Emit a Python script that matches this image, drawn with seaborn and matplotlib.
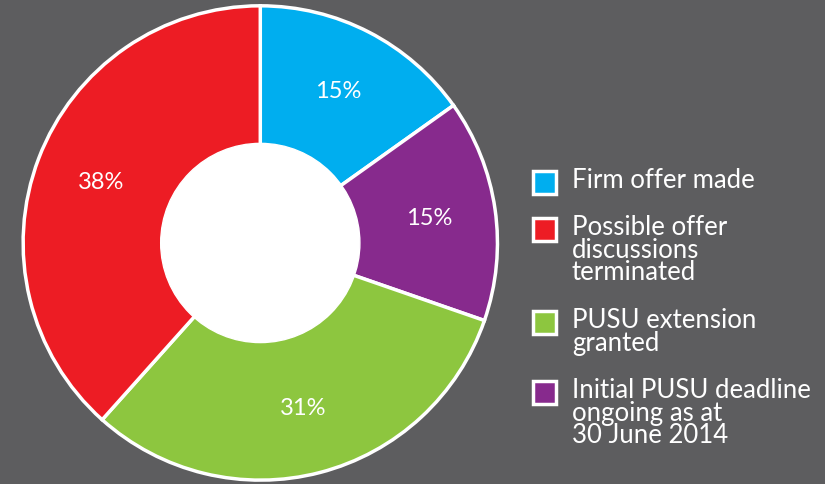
import matplotlib.pyplot as plt
import seaborn as sns
from matplotlib.patches import Rectangle

# share of PUSU outcomes (clockwise from top)
categories = ["Firm offer made",
              "Initial PUSU deadline\nongoing as at\n30 June 2014",
              "PUSU extension\ngranted",
              "Possible offer\ndiscussions\nterminated"]
shares = [15, 15, 31, 38]
colors = ["#00aeef", "#872a8d", "#8dc63f", "#ed1c24"]

# legend order as in the original
legend_order = [0, 3, 2, 1]

bg = "#5d5d5f"
sns.set_style("white")
plt.rcParams["font.family"] = ["Lato", "DejaVu Sans"]

fig = plt.figure(figsize=(8.25, 4.84), dpi=100, facecolor=bg)
ax = fig.add_axes([0.027, 0.008, 0.577, 0.98])
ax.set_facecolor(bg)

wedges, texts, autotexts = ax.pie(
    shares, colors=colors, startangle=90, counterclock=False,
    radius=1, autopct=lambda p: f"{p:.0f}%", pctdistance=0.72,
    wedgeprops=dict(edgecolor="white", linewidth=2.5),
    textprops=dict(color="white", fontsize=17))
for t, v in zip(autotexts, shares):
    t.set_text(f"{v}%")

ax.add_patch(plt.Circle((0, 0), 0.42, color="white", zorder=5))
ax.set_xlim(-1.0, 1.0)
ax.set_ylim(-1.0, 1.0)
ax.set_aspect("equal")
ax.axis("off")

# legend drawn by hand so the swatch sits on the first line
y = 0.645
line_h = 23 / 484
gap = 24 / 484
for i in legend_order:
    fig.add_artist(Rectangle((533 / 825, y - 0.045), 23 / 825, 23 / 484,
                             transform=fig.transFigure, facecolor=colors[i],
                             edgecolor="white", linewidth=2.5))
    fig.text(572 / 825, y + 0.008, categories[i], color="white",
             fontsize=18.5, va="top", ha="left", linespacing=0.88)
    n = categories[i].count("\n") + 1
    y -= n * line_h + gap

fig.savefig("out.png", dpi=100, facecolor=bg)
